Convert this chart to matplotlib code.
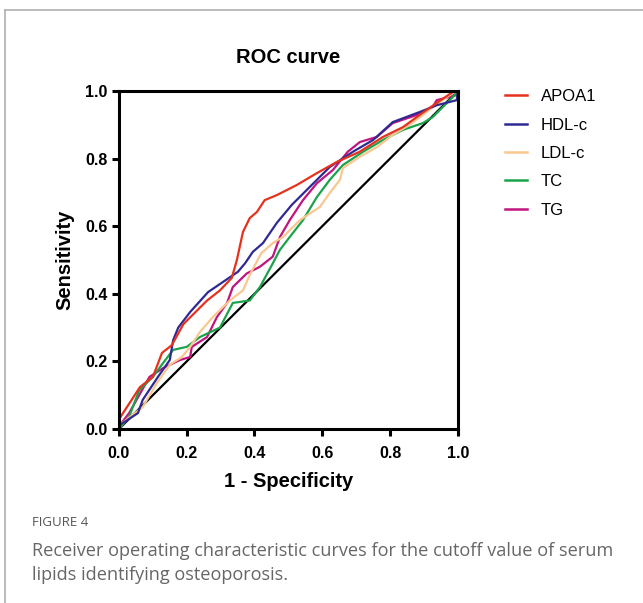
import matplotlib.pyplot as plt
from matplotlib.lines import Line2D

plt.rcParams['font.family'] = ['Liberation Sans', 'DejaVu Sans']

# ROC points (1 - specificity, sensitivity)
apoa1_x = [0, 0, 0.003, 0.062, 0.10, 0.127, 0.156, 0.19, 0.26, 0.298, 0.333, 0.348,
           0.366, 0.386, 0.407, 0.43, 0.466, 0.525, 0.584, 0.643, 0.71, 0.779, 0.838,
           0.908, 0.985, 1.0]
apoa1_y = [0, 0.02, 0.033, 0.124, 0.154, 0.225, 0.248, 0.31, 0.38, 0.41, 0.447, 0.50,
           0.583, 0.624, 0.642, 0.677, 0.692, 0.722, 0.757, 0.79, 0.82, 0.864, 0.893,
           0.944, 0.997, 1.0]

hdl_x = [0, 0.003, 0.056, 0.07, 0.115, 0.15, 0.16, 0.175, 0.21, 0.263, 0.307, 0.351,
         0.372, 0.395, 0.425, 0.466, 0.51, 0.563, 0.622, 0.69, 0.75, 0.808, 0.888,
         0.938, 0.997, 1.0]
hdl_y = [0, 0.012, 0.047, 0.086, 0.154, 0.204, 0.263, 0.30, 0.346, 0.405, 0.435, 0.465,
         0.49, 0.524, 0.55, 0.61, 0.663, 0.716, 0.775, 0.82, 0.855, 0.908, 0.938,
         0.958, 0.973, 1.0]

ldl_x = [0, 0.003, 0.07, 0.112, 0.15, 0.186, 0.21, 0.239, 0.277, 0.327, 0.366, 0.386,
         0.42, 0.454, 0.484, 0.534, 0.593, 0.622, 0.652, 0.661, 0.71, 0.761, 0.808,
         0.858, 0.897, 0.926, 0.985, 1.0]
ldl_y = [0, 0.012, 0.065, 0.136, 0.19, 0.213, 0.243, 0.287, 0.331, 0.38, 0.41, 0.456,
         0.52, 0.55, 0.568, 0.618, 0.657, 0.698, 0.737, 0.772, 0.805, 0.834, 0.87,
         0.90, 0.929, 0.953, 0.994, 1.0]

tc_x = [0, 0.003, 0.03, 0.06, 0.10, 0.13, 0.16, 0.20, 0.239, 0.298, 0.336, 0.386,
        0.416, 0.454, 0.475, 0.504, 0.543, 0.584, 0.622, 0.661, 0.72, 0.779, 0.838,
        0.897, 0.926, 0.985, 1.0]
tc_y = [0, 0.003, 0.036, 0.115, 0.154, 0.195, 0.234, 0.243, 0.272, 0.30, 0.373, 0.38,
        0.42, 0.49, 0.53, 0.568, 0.618, 0.686, 0.737, 0.781, 0.82, 0.855, 0.885,
        0.905, 0.923, 0.982, 1.0]

tg_x = [0, 0.003, 0.03, 0.09, 0.13, 0.18, 0.21, 0.215, 0.26, 0.289, 0.319, 0.336,
        0.377, 0.416, 0.454, 0.475, 0.504, 0.543, 0.584, 0.631, 0.675, 0.711, 0.761,
        0.808, 0.879, 0.926, 0.938, 0.997, 1.0]
tg_y = [0, 0.012, 0.047, 0.154, 0.18, 0.204, 0.213, 0.243, 0.272, 0.331, 0.373, 0.42,
        0.46, 0.48, 0.51, 0.568, 0.618, 0.677, 0.727, 0.766, 0.82, 0.849, 0.864,
        0.905, 0.929, 0.953, 0.973, 0.988, 1.0]

names = ["APOA1", "HDL-c", "LDL-c", "TC", "TG"]
colors = ["#e5321f", "#2f2a93", "#f9c78f", "#1aa34a", "#c0157f"]
ticks = [0, 0.2, 0.4, 0.6, 0.8, 1.0]
tick_labels = ["0.0", "0.2", "0.4", "0.6", "0.8", "1.0"]


def main():
    fig = plt.figure(figsize=(6.43, 6.03), dpi=100)
    ax = fig.add_axes([0.185, 0.2886, 0.527, 0.5605])

    curves = [(apoa1_x, apoa1_y), (hdl_x, hdl_y), (ldl_x, ldl_y), (tc_x, tc_y), (tg_x, tg_y)]
    ax.plot([0, 1], [0, 1], color="black", lw=1.6, zorder=1)
    # draw in reverse so APOA1 ends on top
    for (x, y), c in list(zip(curves, colors))[::-1]:
        ax.plot(x, y, color=c, lw=1.6, zorder=2)

    ax.set_xlim(0, 1)
    ax.set_ylim(0, 1)
    ax.set_xticks(ticks)
    ax.set_yticks(ticks)
    ax.set_xticklabels(tick_labels)
    ax.set_yticklabels(tick_labels)
    for s in ax.spines.values():
        s.set_linewidth(2.2)
    ax.tick_params(direction="out", length=5, width=2.2, labelsize=11.5, pad=3)
    ax.tick_params(axis="x", pad=7)
    for lab in ax.get_xticklabels() + ax.get_yticklabels():
        lab.set_fontweight("bold")

    ax.set_xlabel("1 - Specificity", fontsize=14.5, fontweight="bold", labelpad=8)
    ax.set_ylabel("Sensitivity", fontsize=14.5, fontweight="bold", labelpad=8)
    ax.set_title("ROC curve", fontsize=14.5, fontweight="bold", pad=20)

    handles = [Line2D([0], [0], color=c, lw=1.8) for c in colors]
    fig.legend(handles, names, loc="upper left", bbox_to_anchor=(0.785, 0.852),
               frameon=False, fontsize=12, handlelength=1.32, handletextpad=0.84,
               labelspacing=0.8, borderpad=0, borderaxespad=0)

    # page frame lines
    fig.add_artist(Line2D([0.008, 1.0], [0.983, 0.983], color="#b0b0b0", lw=1.2,
                          transform=fig.transFigure))
    fig.add_artist(Line2D([0.008, 0.008], [0.0, 0.983], color="#b0b0b0", lw=1.2,
                          transform=fig.transFigure))

    fig.text(0.05, 0.128, "FIGURE 4", fontsize=9.5, color="#555555", family="Open Sans")
    fig.text(0.05, 0.038, "Receiver operating characteristic curves for the cutoff value of serum\n"
             "lipids identifying osteoporosis.", fontsize=13.1, color="#666666",
             family="Open Sans", linespacing=1.42)

    fig.savefig("out.png", dpi=100)


if __name__ == "__main__":
    main()
